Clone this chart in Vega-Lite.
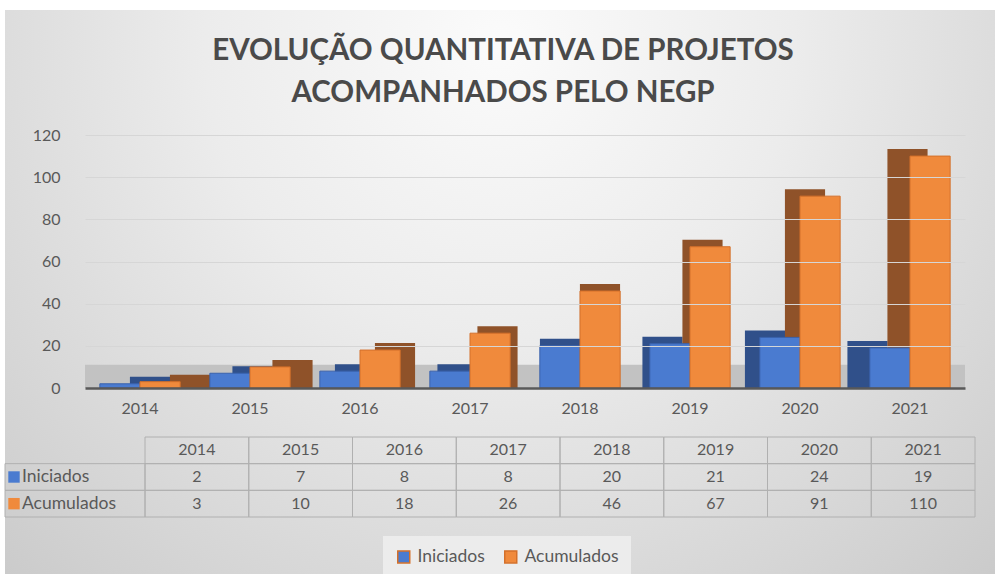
{
  "$schema": "https://vega.github.io/schema/vega-lite/v6.json",
  "width": 880,
  "height": 253,
  "autosize": {"type": "none"},
  "padding": {"left": 85, "top": 135, "right": 30, "bottom": 186},
  "background": "#ffffff",
  "title": {
    "text": ["EVOLUÇÃO QUANTITATIVA DE PROJETOS", "ACOMPANHADOS PELO NEGP"],
    "anchor": "middle",
    "frame": "group",
    "dx": -22,
    "offset": -98,
    "fontSize": 29.5,
    "font": "Lato",
    "fontWeight": "bold",
    "color": "#4a4a4a",
    "lineHeight": 42,
    "zindex": 1
  },
  "config": {
    "view": {"stroke": null},
    "font": "Lato",
    "text": {"font": "Lato"}
  },
  "datasets": {
    "main": [
      {"year": "2014", "series": "Iniciados", "value": 2},
      {"year": "2015", "series": "Iniciados", "value": 7},
      {"year": "2016", "series": "Iniciados", "value": 8},
      {"year": "2017", "series": "Iniciados", "value": 8},
      {"year": "2018", "series": "Iniciados", "value": 20},
      {"year": "2019", "series": "Iniciados", "value": 21},
      {"year": "2020", "series": "Iniciados", "value": 24},
      {"year": "2021", "series": "Iniciados", "value": 19},
      {"year": "2014", "series": "Acumulados", "value": 3},
      {"year": "2015", "series": "Acumulados", "value": 10},
      {"year": "2016", "series": "Acumulados", "value": 18},
      {"year": "2017", "series": "Acumulados", "value": 26},
      {"year": "2018", "series": "Acumulados", "value": 46},
      {"year": "2019", "series": "Acumulados", "value": 67},
      {"year": "2020", "series": "Acumulados", "value": 91},
      {"year": "2021", "series": "Acumulados", "value": 110}
    ]
  },
  "data": {"name": "main"},
  "layer": [
    {
      "transform": [{"aggregate": [{"op": "count", "as": "n"}]}],
      "mark": {
        "type": "rect",
        "fill": {
          "gradient": "radial",
          "x1": 0.5, "y1": 0.25, "r1": 0,
          "x2": 0.5, "y2": 0.25, "r2": 0.85,
          "stops": [
            {"offset": 0, "color": "#fbfbfb"},
            {"offset": 0.35, "color": "#ececec"},
            {"offset": 1, "color": "#c2c2c2"}
          ]
        }
      },
      "encoding": {
        "x": {"datum": 0, "type": "quantitative", "scale": {"domain": [0, 1], "range": [-80, 910], "nice": false, "zero": false}, "axis": null},
        "x2": {"datum": 1},
        "y": {"datum": 0, "type": "quantitative", "scale": {"domain": [0, 1], "range": [-125, 439], "nice": false, "zero": false}, "axis": null},
        "y2": {"datum": 1}
      }
    },
    {
      "transform": [{"aggregate": [{"op": "count", "as": "n"}]}],
      "mark": {"type": "rect", "color": "#c2c2c2"},
      "encoding": {
        "y": {"datum": 0, "type": "quantitative", "scale": {"domain": [0, 120], "nice": false}, "axis": null},
        "y2": {"datum": 11}
      }
    },
    {
      "encoding": {
        "x": {
          "field": "year", "type": "ordinal",
          "scale": {"paddingInner": 0.27, "paddingOuter": 0.135},
          "axis": {"title": null, "labelAngle": 0, "labelFontSize": 16, "labelColor": "#595959", "ticks": false, "domainColor": "#595959", "domainWidth": 2.5, "labelPadding": 12, "zindex": 1}
        },
        "y": {
          "field": "value", "type": "quantitative", "stack": null,
          "scale": {"domain": [0, 120], "nice": false},
          "axis": {"title": null, "values": [0, 20, 40, 60, 80, 100, 120], "grid": true, "gridColor": "#d6d6d6", "domain": false, "ticks": false, "labelPadding": 25, "labelFontSize": 16, "labelColor": "#595959", "zindex": 1}
        }
      },
      "layer": [
        {
          "mark": {
            "type": "bar",
            "width": {"band": 0.5},
            "xOffset": {"expr": "(datum.series === 'Iniciados' ? -20 : 20) + (2018 - toNumber(datum.year)) * 7.5"},
            "yOffset": -7
          },
          "encoding": {
            "color": {"condition": {"test": "datum.series === 'Iniciados'", "value": "#30508a"}, "value": "#8f5229"}
          }
        },
        {
          "mark": {"type": "bar", "strokeWidth": 1},
          "encoding": {
            "xOffset": {"field": "series", "type": "nominal", "sort": ["Iniciados", "Acumulados"]},
            "color": {
              "field": "series", "type": "nominal",
              "scale": {"domain": ["Iniciados", "Acumulados"], "range": ["#4a7bd0", "#f08a3c"]},
              "legend": {"orient": "none", "legendX": 298, "legendY": 401, "direction": "horizontal", "title": null, "symbolType": "square", "symbolSize": 144, "labelFontSize": 17.5, "labelColor": "#595959", "fillColor": "#ececec", "padding": 12, "columnPadding": 16, "labelOffset": 5}
            },
            "stroke": {"condition": {"test": "datum.series === 'Iniciados'", "value": "#3a62ad"}, "value": "#d4702a"}
          }
        }
      ]
    },
    {
      "encoding": {
        "x": {"field": "year", "type": "ordinal", "scale": {"range": [60, 890], "paddingInner": 0, "paddingOuter": 0}, "axis": null},
        "y": {"field": "series", "type": "nominal", "scale": {"domain": ["h", "Iniciados", "Acumulados"], "range": [302, 382], "paddingInner": 0, "paddingOuter": 0}, "axis": null}
      },
      "layer": [
        {
          "mark": {"type": "rect", "fillOpacity": 0, "stroke": "#b0b0b0", "strokeWidth": 1}
        },
        {
          "mark": {"type": "text", "fontSize": 16, "color": "#595959"},
          "encoding": {"text": {"field": "value", "type": "quantitative"}}
        },
        {
          "transform": [{"aggregate": [{"op": "count", "as": "n"}], "groupby": ["year"]}],
          "mark": {"type": "rect", "fillOpacity": 0, "stroke": "#b0b0b0", "strokeWidth": 1},
          "encoding": {"y": {"datum": "h", "type": "nominal"}}
        },
        {
          "transform": [{"aggregate": [{"op": "count", "as": "n"}], "groupby": ["year"]}],
          "mark": {"type": "text", "fontSize": 16, "color": "#595959"},
          "encoding": {"y": {"datum": "h", "type": "nominal"}, "text": {"field": "year", "type": "nominal"}}
        }
      ]
    },
    {
      "transform": [{"aggregate": [{"op": "count", "as": "n"}], "groupby": ["series"]}],
      "encoding": {
        "x": {"datum": "rotulo", "type": "nominal", "scale": {"domain": ["rotulo"], "range": [-80, 60], "paddingInner": 0, "paddingOuter": 0}, "axis": null},
        "y": {"field": "series", "type": "nominal", "scale": {"domain": ["h", "Iniciados", "Acumulados"], "range": [302, 382], "paddingInner": 0, "paddingOuter": 0}, "axis": null}
      },
      "layer": [
        {
          "mark": {"type": "rect", "fillOpacity": 0, "stroke": "#b0b0b0", "strokeWidth": 1}
        },
        {
          "mark": {"type": "point", "shape": "square", "filled": true, "size": 130, "xOffset": -61, "opacity": 1, "strokeWidth": 1},
          "encoding": {
            "color": {"field": "series", "type": "nominal"}
          }
        },
        {
          "mark": {"type": "text", "fontSize": 17.5, "color": "#595959", "align": "left", "dx": -53},
          "encoding": {"text": {"field": "series", "type": "nominal"}}
        }
      ]
    }
  ],
  "resolve": {"scale": {"x": "independent", "y": "independent"}}
}
